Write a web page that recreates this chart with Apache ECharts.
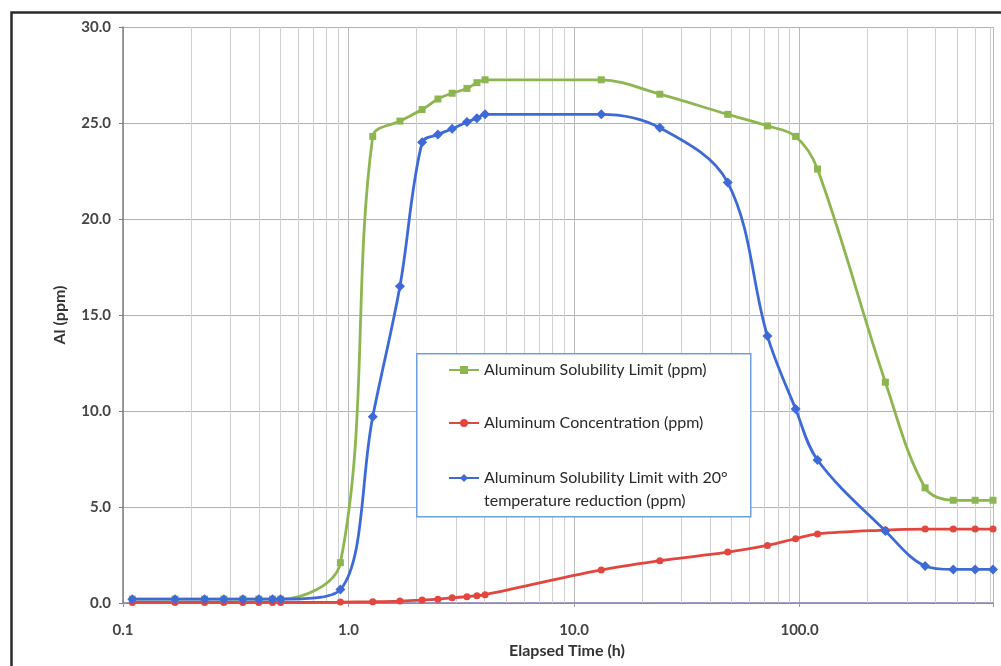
<!DOCTYPE html>
<html>
<head>
<meta charset="utf-8">
<script src="https://cdn.jsdelivr.net/npm/echarts@6/dist/echarts.min.js"></script>
<style>
  html, body { margin: 0; padding: 0; background: #ffffff; }
  #chart { width: 1001px; height: 666px; }
</style>
</head>
<body>
<div id="chart"></div>
<script>
// ---- data ----
const hours = [0.11, 0.17, 0.23, 0.28, 0.34, 0.40, 0.46, 0.50,
  0.92, 1.28, 1.69, 2.12, 2.49, 2.88, 3.35, 3.71, 4.03,
  13.2, 24, 48, 72, 96, 120,
  240, 360, 480, 600, 720];
const solubilityLimit = [0.2, 0.2, 0.2, 0.2, 0.2, 0.2, 0.2, 0.2,
  2.1, 24.3, 25.1, 25.7, 26.25, 26.55, 26.8, 27.1, 27.25,
  27.25, 26.5, 25.45, 24.85, 24.3, 22.6,
  11.5, 6.0, 5.35, 5.35, 5.35];
const concentration = [0.03, 0.03, 0.03, 0.03, 0.03, 0.03, 0.03, 0.03,
  0.05, 0.07, 0.1, 0.15, 0.2, 0.27, 0.33, 0.38, 0.43,
  1.72, 2.2, 2.65, 3.0, 3.35, 3.6,
  3.8, 3.85, 3.85, 3.85, 3.85];
const reducedLimit = [0.2, 0.2, 0.2, 0.2, 0.2, 0.2, 0.2, 0.2,
  0.7, 9.7, 16.5, 24.0, 24.4, 24.7, 25.05, 25.25, 25.45,
  25.45, 24.75, 21.9, 13.9, 10.1, 7.45,
  3.75, 1.93, 1.75, 1.75, 1.75];
const seriesNames = [
  'Aluminum Solubility Limit (ppm)',
  'Aluminum Concentration (ppm)',
  'Aluminum Solubility Limit with 20° temperature reduction (ppm)'
];
const legendLabels = [
  'Aluminum Solubility Limit (ppm)',
  'Aluminum Concentration (ppm)',
  ' \nAluminum Solubility Limit with 20°\ntemperature reduction (ppm)'
];
const minorGridValues = [0.2, 0.3, 0.4, 0.5, 0.6, 0.7, 0.8, 0.9,
  2, 3, 4, 5, 6, 7, 8, 9,
  20, 30, 40, 50, 60, 70, 80, 90,
  200, 300, 400, 500, 600, 700];
const xMin = 0.1, xMax = 720;
const yMin = 0, yMax = 30, yStep = 5;
const xTitle = 'Elapsed Time (h)';
const yTitle = 'Al (ppm)';

// ---- styles ----
const FONT = 'Lato, "Open Sans", sans-serif';
const GREEN = '#8DB651', RED = '#E2463F', BLUE = '#3E6AD8';

const pairs = arr => hours.map((h, i) => [h, arr[i]]);

const chart = echarts.init(document.getElementById('chart'), null, { renderer: 'canvas' });

function legendCfg(idx, top, lineHeight) {
  return {
    data: [seriesNames[idx]],
    orient: 'vertical',
    left: 448,
    top: top,
    padding: 0,
    itemWidth: 30,
    itemHeight: 10,
    itemGap: 0,
    selectedMode: false,
    z: 10,
    textStyle: { fontFamily: FONT, fontSize: 16, color: '#2a2a2a', lineHeight: lineHeight },
    formatter: () => legendLabels[idx]
  };
}

const option = {
  animation: false,
  backgroundColor: '#ffffff',
  grid: { left: 123, right: 8, top: 27, bottom: 63 },
  xAxis: {
    type: 'log',
    logBase: 10,
    min: xMin,
    max: xMax,
    name: xTitle,
    nameLocation: 'middle',
    nameGap: 40,
    nameTextStyle: { fontFamily: FONT, fontSize: 16, fontWeight: 'bold', color: '#333', padding: [0, 0, 0, 18] },
    axisLine: { show: true, lineStyle: { color: '#7d7db3', width: 1.5 } },
    axisTick: { show: true, length: 4, lineStyle: { color: '#999' } },
    axisLabel: {
      fontFamily: FONT, fontSize: 15, fontWeight: 'bold', color: '#444', margin: 20,
      formatter: v => {
        const l = Math.log10(v);
        return Math.abs(l - Math.round(l)) < 1e-6 ? Number(v).toFixed(1) : '';
      }
    },
    splitLine: { show: true, lineStyle: { color: '#b9b9b9', width: 1 } },
    minorTick: { show: false },
    minorSplitLine: { show: false }
  },
  yAxis: {
    type: 'value',
    min: yMin,
    max: yMax,
    interval: yStep,
    name: yTitle,
    nameLocation: 'middle',
    nameRotate: 90,
    nameGap: 55,
    nameTextStyle: { fontFamily: FONT, fontSize: 16, fontWeight: 'bold', color: '#333' },
    axisLine: { show: true, lineStyle: { color: '#808080', width: 1.5 } },
    axisTick: { show: true, length: 4, lineStyle: { color: '#808080' } },
    axisLabel: {
      fontFamily: FONT, fontSize: 15, fontWeight: 'bold', color: '#444', margin: 12,
      formatter: v => Number(v).toFixed(1)
    },
    splitLine: { show: true, lineStyle: { color: '#caa3bd', width: 1.2 } }
  },
  legend: [
    legendCfg(0, 361, 18),
    legendCfg(1, 414, 18),
    legendCfg(2, 443.5, 23)
  ],
  graphic: [
    { type: 'rect', left: 9, top: 10, z: 100, silent: true,
      shape: { width: 1020, height: 680 },
      style: { fill: 'none', stroke: '#2a2a2a', lineWidth: 2.5 } },
    { type: 'rect', left: 416, top: 353, z: 5, silent: true,
      shape: { width: 334, height: 163 },
      style: { fill: '#ffffff', stroke: '#6f9fdc', lineWidth: 1.5 } }
  ],
  series: [
    {
      name: 'minor-grid',
      type: 'line',
      data: [],
      z: 1,
      silent: true,
      markLine: {
        silent: true,
        z: 1,
        symbol: 'none',
        animation: false,
        label: { show: false },
        lineStyle: { color: '#cfcfcf', width: 1, type: 'solid' },
        emphasis: { disabled: true },
        data: minorGridValues.map(v => ({ xAxis: v }))
      }
    },
    {
      name: seriesNames[0], type: 'line', smooth: 0.35, data: pairs(solubilityLimit),
      symbol: 'rect', symbolSize: 7, z: 3,
      lineStyle: { color: GREEN, width: 2.8 }, itemStyle: { color: GREEN }
    },
    {
      name: seriesNames[1], type: 'line', smooth: 0.35, data: pairs(concentration),
      symbol: 'circle', symbolSize: 7, z: 3,
      lineStyle: { color: RED, width: 2.8 }, itemStyle: { color: RED }
    },
    {
      name: seriesNames[2], type: 'line', smooth: 0.35, data: pairs(reducedLimit),
      symbol: 'diamond', symbolSize: 10, z: 4,
      lineStyle: { color: BLUE, width: 2.8 }, itemStyle: { color: BLUE }
    }
  ]
};

chart.setOption(option);
</script>
</body>
</html>
